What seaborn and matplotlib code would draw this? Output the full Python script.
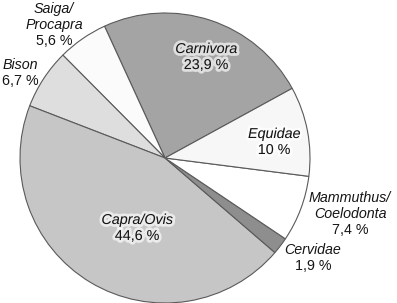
import seaborn as sns
import matplotlib.pyplot as plt
import matplotlib.patheffects as pe

# Slice data, counterclockwise from the Carnivora/Equidae boundary
taxa = ["Carnivora", "Saiga/\nProcapra", "Bison", "Capra/Ovis", "Cervidae",
        "Mammuthus/\nCoelodonta", "Equidae"]
shares = [23.9, 5.6, 6.7, 44.6, 1.9, 7.4, 10.0]
share_labels = ["23,9 %", "5,6 %", "6,7 %", "44,6 %", "1,9 %", "7,4 %", "10 %"]

# Layout: anchor = centre x / baseline of last name line, in pie radius units
grays = ["#a4a4a4", "#fbfbfb", "#dedede", "#c6c6c6", "#8e8e8e", "#ffffff", "#f7f7f7"]
label_anchor = [(0.283, 0.724), (-0.766, 0.890), (-1.0, 0.614), (-0.193, -0.455),
                (1.021, -0.662), (1.276, -0.414), (0.752, 0.138)]
inside = [True, False, False, True, False, False, True]
PITCH = 16 / 145


def create_chart():
    sns.set_theme(style="white")
    plt.rcParams["font.family"] = ["Liberation Sans", "DejaVu Sans"]

    fig = plt.figure(figsize=(3.97, 3.03), dpi=100)
    ax = fig.add_axes([0, 0, 1, 1])

    ax.pie(shares, colors=grays, startangle=28.7, counterclock=True,
           radius=1.0, center=(0, 0),
           wedgeprops=dict(edgecolor="#5a5a5a", linewidth=0.8))

    glow = [pe.withStroke(linewidth=4, foreground="white", alpha=0.65)]
    for name, lab, (x, y), ins in zip(taxa, share_labels, label_anchor, inside):
        lines = name.split("\n")
        texts = []
        for i, line in enumerate(lines):
            yy = y + (len(lines) - 1 - i) * PITCH
            texts.append(ax.text(x, yy, line, ha="center", va="baseline",
                                 fontsize=10.3, style="italic", color="#151515"))
        texts.append(ax.text(x, y - PITCH, lab, ha="center", va="baseline",
                             fontsize=10.3, color="#151515"))
        if ins:
            for t in texts:
                t.set_path_effects(glow)

    # 145 px per radius unit, centre at pixel (165, 158)
    ax.set_xlim(-165 / 145, (397 - 165) / 145)
    ax.set_ylim(-(303 - 158) / 145, 158 / 145)
    ax.set_aspect("auto")
    ax.axis("off")

    fig.savefig("out.png", dpi=100)
    plt.close(fig)


if __name__ == "__main__":
    create_chart()
